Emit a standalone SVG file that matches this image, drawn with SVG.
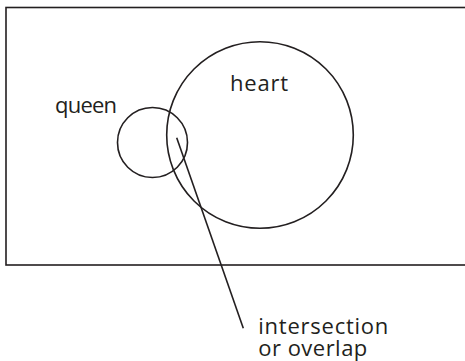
<svg xmlns="http://www.w3.org/2000/svg" width="465" height="361" viewBox="0 0 465 361">
<style>
.s{fill:none;stroke:#231f20;stroke-width:1.6}
.t{font-family:"Open Sans","Noto Sans",sans-serif;font-size:22px;fill:#231f20}
</style>
<rect width="465" height="361" fill="#fff"/>
<g id="universe"><rect class="s" x="6" y="7.5" width="470" height="257.5"/></g>
<g id="heart"><circle class="s" cx="260" cy="135" r="93.3"/><text class="t" x="230" y="91" textLength="58" lengthAdjust="spacing">heart</text></g>
<g id="queen"><circle class="s" cx="152.5" cy="142.5" r="35"/><text class="t" x="55" y="113" textLength="62" lengthAdjust="spacing">queen</text></g>
<g id="connectors"><line class="s" x1="176.7" y1="137.7" x2="243.3" y2="328.3"/></g>
<g id="label"><text class="t" x="258.3" y="334" textLength="130" lengthAdjust="spacing">intersection</text><text class="t" x="258.3" y="356" textLength="109" lengthAdjust="spacing">or overlap</text></g>
</svg>
